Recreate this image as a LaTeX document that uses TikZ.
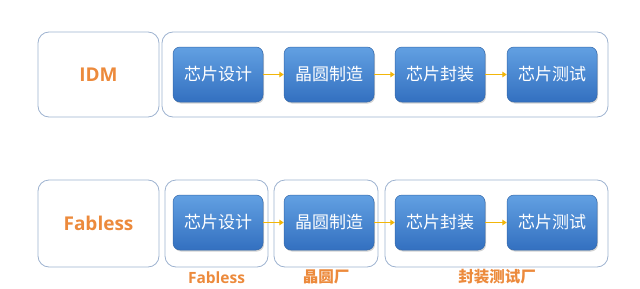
\documentclass[tikz,border=0pt]{standalone}
\usepackage{fontspec}
\setmainfont{Noto Sans CJK SC}
\newfontfamily\lat{Open Sans}
\usetikzlibrary{arrows.meta,shadows}
\definecolor{frame}{HTML}{9DB2CF}
\definecolor{bluetop}{HTML}{62A0E2}
\definecolor{bluebot}{HTML}{3370C0}
\definecolor{blueedge}{HTML}{3468AA}
\definecolor{arr}{HTML}{F2B60A}
\definecolor{org}{HTML}{EC8A3C}
\tikzset{
  groupbox/.style={draw=frame, line width=0.8pt, rounded corners=11pt},
  stepbox/.style={draw=blueedge, line width=0.5pt, rounded corners=7pt,
    top color=bluetop, bottom color=bluebot, minimum width=90pt, minimum height=55pt,
    text=white, font=\fontsize{17}{20}\selectfont, inner sep=0pt,
    drop shadow={shadow xshift=1pt, shadow yshift=-1.5pt, opacity=0.35}},
  flow/.style={draw=arr, line width=1.6pt, -{Triangle[length=4.5pt,width=5.5pt]}},
  bigtitle/.style={text=org, font=\lat\bfseries\fontsize{19}{22}\selectfont},
  sublabel/.style={text=org, font=\bfseries\fontsize{15.5}{18}\selectfont},
}
\begin{document}
\begin{tikzpicture}[x=1pt,y=-1pt]
\useasboundingbox (0,0) rectangle (640,289);
% top row
\draw[groupbox] (38,32) rectangle (159,117);
\node[bigtitle] (idm) at (98.5,75) {IDM};
\draw[groupbox] (162,32) rectangle (608,117);
\node[stepbox] (a1) at (218,74.5) {芯片设计};
\node[stepbox] (a2) at (329,74.5) {晶圆制造};
\node[stepbox] (a3) at (440,74.5) {芯片封装};
\node[stepbox] (a4) at (552,74.5) {芯片测试};
\draw[flow] (a1) -- (a2);
\draw[flow] (a2) -- (a3);
\draw[flow] (a3) -- (a4);
% bottom row
\draw[groupbox] (38,180) rectangle (159,267);
\node[bigtitle] (fab) at (98.5,223) {Fabless};
\draw[groupbox] (165,180) rectangle (268,267);
\draw[groupbox] (274,180) rectangle (378,267);
\draw[groupbox] (385,180) rectangle (608,267);
\node[stepbox] (b1) at (218,222.5) {芯片设计};
\node[stepbox] (b2) at (329,222.5) {晶圆制造};
\node[stepbox] (b3) at (440,222.5) {芯片封装};
\node[stepbox] (b4) at (552,222.5) {芯片测试};
\draw[flow] (b1) -- (b2);
\draw[flow] (b2) -- (b3);
\draw[flow] (b3) -- (b4);
\node[sublabel, font=\lat\bfseries\fontsize{15.5}{18}\selectfont] (l1) at (216.5,278) {Fabless};
\node[sublabel] (l2) at (326,277) {晶圆厂};
\node[sublabel] (l3) at (497,277) {封装测试厂};
\end{tikzpicture}
\end{document}
